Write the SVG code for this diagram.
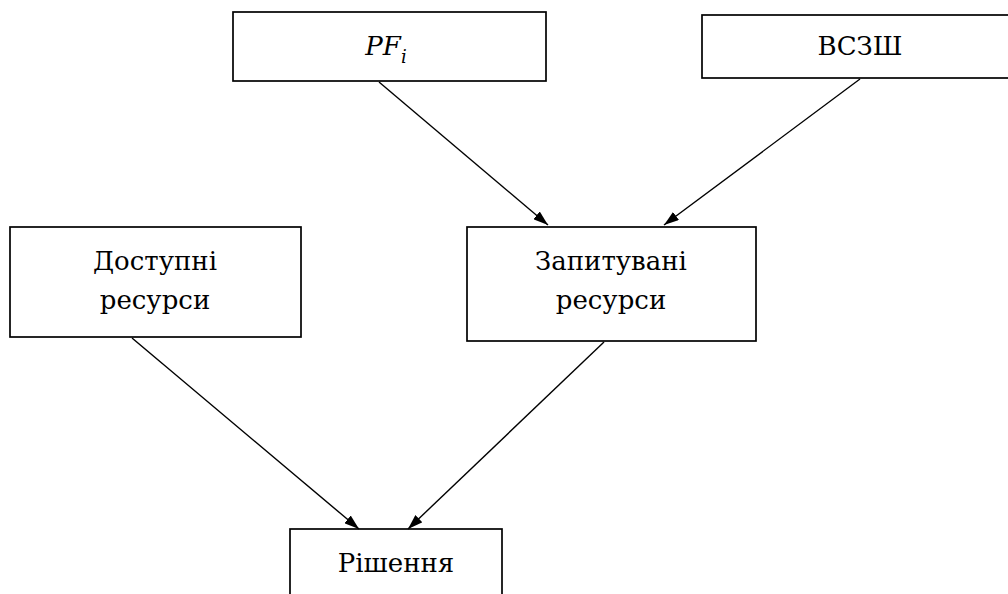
<svg xmlns="http://www.w3.org/2000/svg" width="1008" height="594" viewBox="0 0 1008 594">
<style>
.box{fill:#fff;stroke:#000;stroke-width:1.7}
.t{font-family:"DejaVu Serif","Liberation Serif",serif;font-size:26px;fill:#000;text-anchor:middle}
.edge{stroke:#000;stroke-width:1.4;fill:none;marker-end:url(#ah)}
</style>
<defs>
<marker id="ah" viewBox="0 0 15 10" refX="15" refY="5" markerWidth="15" markerHeight="10" markerUnits="userSpaceOnUse" orient="auto">
<path d="M0,0 L15,5 L0,10 z" fill="#000"/>
</marker>
</defs>
<rect width="1008" height="594" fill="#fff"/>
<g id="pf">
<rect class="box" x="233" y="12" width="313" height="69"/>
<text class="t" x="386" y="55" font-style="italic">PF<tspan font-size="18" dy="8">i</tspan></text>
</g>
<g id="vszsh">
<rect class="box" x="702" y="15" width="318" height="63"/>
<text class="t" x="860" y="55">ВСЗШ</text>
</g>
<g id="dostupni">
<rect class="box" x="10" y="227" width="291" height="110"/>
<text class="t" x="155" y="270">Доступні</text>
<text class="t" x="155" y="309">ресурси</text>
</g>
<g id="zapytuvani">
<rect class="box" x="467" y="227" width="289" height="114"/>
<text class="t" x="611" y="270">Запитувані</text>
<text class="t" x="611" y="309">ресурси</text>
</g>
<g id="rishennia">
<rect class="box" x="290" y="529" width="212" height="80"/>
<text class="t" x="396" y="572">Рішення</text>
</g>
<g id="connectors">
<line class="edge" x1="379" y1="82" x2="548" y2="225"/>
<line class="edge" x1="860" y1="79" x2="664" y2="225"/>
<line class="edge" x1="132" y1="338" x2="359" y2="529"/>
<line class="edge" x1="604" y1="342" x2="408" y2="529"/>
</g>
</svg>
